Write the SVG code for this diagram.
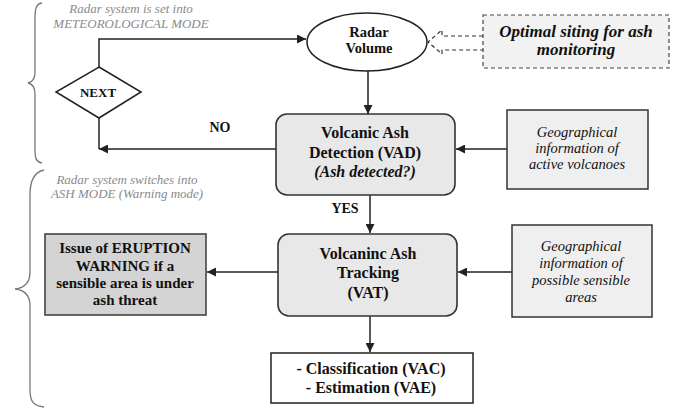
<svg xmlns="http://www.w3.org/2000/svg" width="684" height="409" viewBox="0 0 684 409" font-family="'Liberation Serif', 'DejaVu Serif', serif">
<defs>
<marker id="ah" viewBox="0 0 10 10" refX="10" refY="5" markerWidth="9" markerHeight="9" markerUnits="userSpaceOnUse" orient="auto">
<path d="M0,0 L10,5 L0,10 z" fill="#222"/>
</marker>
<style>
text{font-family:'Liberation Serif','DejaVu Serif',serif;text-anchor:middle;fill:#111}
.b{font-weight:bold}
.bi{font-weight:bold;font-style:italic}
.i{font-style:italic}
.g{font-style:italic;fill:#8a8a8a;font-size:13px}
.c{fill:none;stroke:#222;stroke-width:1.5}
.brace{fill:none;stroke:#777;stroke-width:1.3}
.proc{fill:#e8e8e8;stroke:#333;stroke-width:1.6}
.info{fill:#efefef;stroke:#333;stroke-width:1.5}
</style>
</defs>
<rect width="684" height="409" fill="#fff"/>

<g id="braces">
<path class="brace" d="M42 3 C36 4 35 9 35 18 L35 72 C35 79 33 82 28 83 C33 84 35 87 35 94 L35 150 C35 158 36 162 42 163"/>
<text class="g" x="131" y="13">Radar system is set into</text>
<text class="g" x="131" y="28">METEOROLOGICAL MODE</text>
<path class="brace" d="M44 170 C34 172 30 180 30 195 L30 272 C30 283 24 288 15 289 C24 290 30 295 30 306 L30 390 C30 402 34 406 44 407"/>
<text class="g" x="127" y="184">Radar system switches into</text>
<text class="g" x="127" y="198">ASH MODE (Warning mode)</text>
</g>

<g id="connectors">
<polyline class="c" points="99,67 99,39 306,39" marker-end="url(#ah)"/>
<line class="c" x1="368" y1="71" x2="368" y2="114" marker-end="url(#ah)"/>
<path d="M483 36 L442 36 L442 30 L428 42 L442 54 L442 50 L483 50" fill="none" stroke="#333" stroke-width="1.2" stroke-dasharray="4,3"/>
<line class="c" x1="507" y1="149" x2="456" y2="149" marker-end="url(#ah)"/>
<line class="c" x1="99" y1="118" x2="99" y2="149"/>
<line class="c" x1="276" y1="149" x2="99" y2="149" marker-end="url(#ah)"/>
<text class="b" x="220" y="132" font-size="14">NO</text>
<line class="c" x1="370" y1="195" x2="370" y2="233" marker-end="url(#ah)"/>
<text class="b" x="345" y="213" font-size="14">YES</text>
<line class="c" x1="512" y1="272" x2="458" y2="272" marker-end="url(#ah)"/>
<line class="c" x1="278" y1="272" x2="207" y2="272" marker-end="url(#ah)"/>
<line class="c" x1="370" y1="316" x2="370" y2="352" marker-end="url(#ah)"/>
</g>

<g id="radar-volume">
<ellipse cx="367" cy="42" rx="60" ry="29" fill="#fff" stroke="#222" stroke-width="1.5"/>
<text class="b" x="369" y="37" font-size="14.5">Radar</text>
<text class="b" x="369" y="53" font-size="14.5">Volume</text>
</g>

<g id="optimal-siting">
<rect x="483" y="15" width="186" height="53" fill="#f2f2f2" stroke="#444" stroke-width="1.2" stroke-dasharray="4,3"/>
<text class="bi" x="576" y="37" font-size="17">Optimal siting for ash</text>
<text class="bi" x="576" y="55" font-size="17">monitoring</text>
</g>

<g id="next">
<polygon points="99,67 141,92 99,118 56,92" fill="#fff" stroke="#222" stroke-width="1.5"/>
<text class="b" x="98" y="97" font-size="13">NEXT</text>
</g>

<g id="vad">
<rect class="proc" x="276" y="114" width="179" height="81" rx="11"/>
<text class="b" x="365" y="138" font-size="16">Volcanic Ash</text>
<text class="b" x="365" y="158" font-size="16">Detection (VAD)</text>
<text class="bi" x="365" y="177" font-size="16">(Ash detected?)</text>
</g>

<g id="geo-volcanoes">
<rect class="info" x="507" y="110" width="141" height="79"/>
<text class="i" x="577" y="137" font-size="14.5">Geographical</text>
<text class="i" x="577" y="153" font-size="14.5">information of</text>
<text class="i" x="577" y="169" font-size="14.5">active volcanoes</text>
</g>

<g id="vat">
<rect class="proc" x="278" y="234" width="179" height="82" rx="11"/>
<text class="b" x="368" y="259" font-size="16">Volcaninc Ash</text>
<text class="b" x="368" y="278" font-size="16">Tracking</text>
<text class="b" x="368" y="298" font-size="16">(VAT)</text>
</g>

<g id="geo-areas">
<rect class="info" x="512" y="225" width="140" height="92"/>
<text class="i" x="581" y="251" font-size="14.5">Geographical</text>
<text class="i" x="581" y="268" font-size="14.5">information of</text>
<text class="i" x="581" y="285" font-size="14.5">possible sensible</text>
<text class="i" x="581" y="302" font-size="14.5">areas</text>
</g>

<g id="warning">
<rect x="45" y="234" width="161" height="81" fill="#d4d4d4" stroke="#444" stroke-width="1.6"/>
<text class="b" x="125" y="253" font-size="15">Issue of ERUPTION</text>
<text class="b" x="125" y="271" font-size="15">WARNING if a</text>
<text class="b" x="125" y="288" font-size="15">sensible area is under</text>
<text class="b" x="125" y="305" font-size="15">ash threat</text>
</g>

<g id="classification">
<rect x="271" y="353" width="202" height="50" fill="#fff" stroke="#222" stroke-width="1.5"/>
<text class="b" x="371" y="374" font-size="16">- Classification (VAC)</text>
<text class="b" x="371" y="393" font-size="16">- Estimation (VAE)</text>
</g>
</svg>
